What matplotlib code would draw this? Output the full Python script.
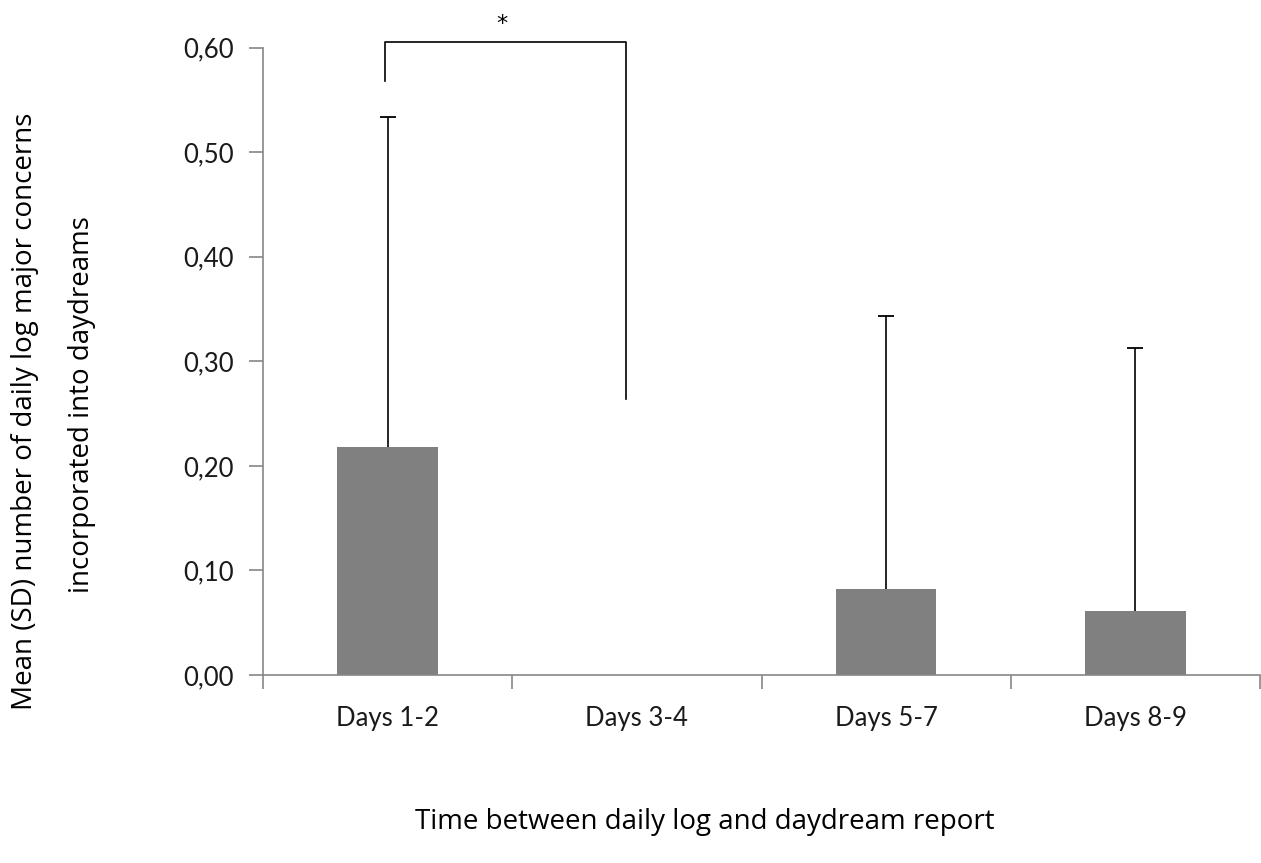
import numpy as np
import matplotlib
matplotlib.use('Agg')
import matplotlib.pyplot as plt

categories = ['Days 1-2', 'Days 3-4', 'Days 5-7', 'Days 8-9']
means = [0.218, 0.0, 0.082, 0.061]
sds = [0.316, 0.0, 0.261, 0.252]
yticks = [0.0, 0.1, 0.2, 0.3, 0.4, 0.5, 0.6]
# significance bracket: left leg bottom, right leg bottom, top
bracket = (0.568, 0.264, 0.605)

fig = plt.figure(figsize=(12.61, 8.63), dpi=100)
ax = fig.add_axes([263/1261, 1-675/863, (1260-263)/1261, (675-47.7)/863])

x = np.arange(len(categories))
means = np.array(means)
sds = np.array(sds)
ax.bar(x, means, width=0.404, color='#808080', zorder=2)

# upper error bars only (with caps), skip zero SD
has = sds > 0
ax.vlines(x[has], means[has], means[has] + sds[has], color='black', lw=1.2, zorder=3)
ax.plot(x[has], means[has] + sds[has], ls='none', marker='_', ms=11.5,
        mew=1.3, color='black', zorder=3)

bl, br, bt = bracket
ax.plot([x[0]-0.01, x[0]-0.01, x[1]-0.045, x[1]-0.045], [bl, bt, bt, br],
        color='black', lw=1.2, clip_on=False, zorder=4)
ax.text((x[0]+x[1])/2 - 0.04, bt+0.008, '*', ha='center', va='bottom',
        fontsize=16, family='DejaVu Sans')

ax.set_xlim(-0.5, 3.5)
ax.set_ylim(0, 0.6)
ax.set_yticks(yticks)
ax.yaxis.set_major_formatter(matplotlib.ticker.FuncFormatter(lambda v, p: ('%.2f' % v).replace('.', ',')))
ax.set_xticks(x)
ax.set_xticklabels(categories)
ax.set_xticks(np.arange(-0.5, 3.6, 1.0), minor=True)
ax.tick_params(axis='x', which='major', length=0, pad=22.5)
ax.tick_params(axis='x', which='minor', length=10, width=1.2, color='#868686', direction='out')
ax.tick_params(axis='y', length=10, width=1.2, color='#868686', pad=11)
for lab in ax.get_xticklabels() + ax.get_yticklabels():
    lab.set_family('Lato')
    lab.set_fontsize(18.5)
    lab.set_color('#1a1a1a')

for s in ['top', 'right']:
    ax.spines[s].set_visible(False)
for s in ['left', 'bottom']:
    ax.spines[s].set_color('#868686')
    ax.spines[s].set_linewidth(1.2)

fig.text(25/1261, 1-411/863, 'Mean (SD) number of daily log major concerns',
         rotation=90, ha='center', va='center', fontsize=20, family='Open Sans')
fig.text(82/1261, 1-405/863, 'incorporated into daydreams',
         rotation=90, ha='center', va='center', fontsize=20, family='Open Sans')
fig.text(705/1261, 1-822/863, 'Time between daily log and daydream report',
         ha='center', va='center', fontsize=20, family='Open Sans')

fig.savefig('out.png', dpi=100)
